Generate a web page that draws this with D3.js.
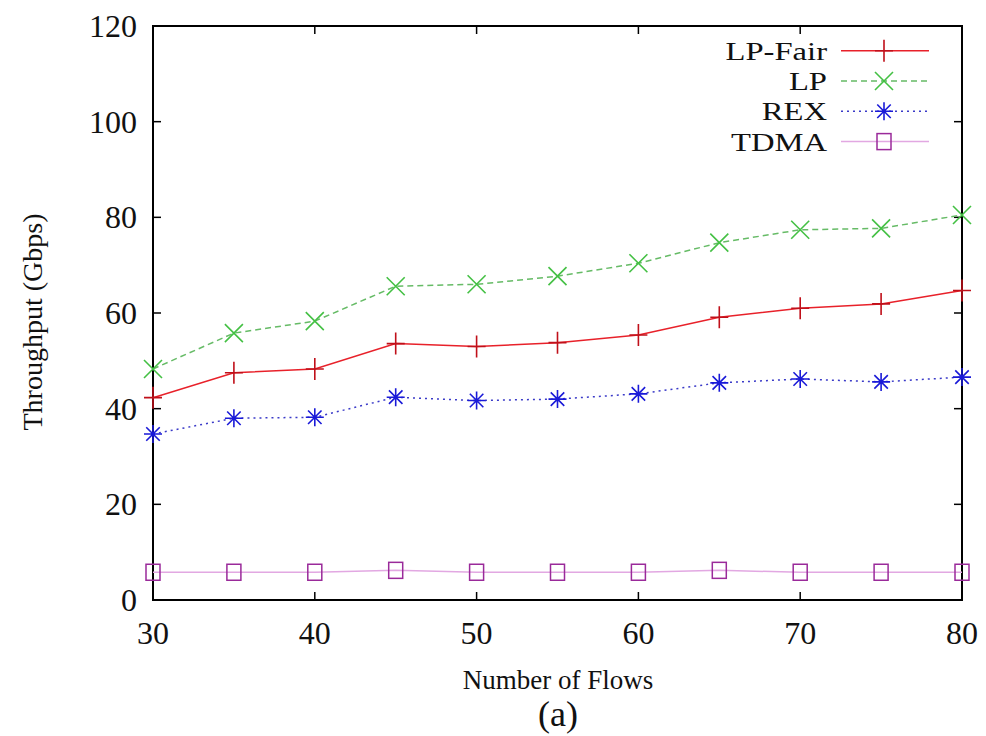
<!DOCTYPE html>
<html><head><meta charset="utf-8">
<script src="https://cdn.jsdelivr.net/npm/d3@7"></script>
<style>body{margin:0;background:#fff}svg{display:block}text{font-family:"Liberation Serif","Times New Roman","DejaVu Serif",serif;fill:#111}</style>
</head><body><svg id="c" width="986" height="736" font-family="Liberation Serif, Times New Roman, serif"></svg>
<script>
const flows = [30,35,40,45,50,55,60,65,70,75,80];
const lpFair = [42.3,47.5,48.3,53.6,53.0,53.8,55.4,59.1,61.0,61.9,64.7];
const lp     = [48.3,55.8,58.3,65.6,66.0,67.7,70.4,74.7,77.4,77.7,80.5];
const rex    = [34.7,38.0,38.2,42.4,41.7,42.0,43.1,45.4,46.2,45.6,46.6];
const tdma   = [5.8,5.8,5.8,6.2,5.8,5.8,5.8,6.2,5.8,5.8,5.8];
const xTicks = [30,40,50,60,70,80];
const yTicks = [0,20,40,60,80,100,120];
const seriesNames = ["LP-Fair","LP","REX","TDMA"];

const svg = d3.select("#c");
const L=153,R=962,T=26,B=600;
const x = d3.scaleLinear().domain([30,80]).range([L,R]);
const y = d3.scaleLinear().domain([0,120]).range([B,T]);

const series = [
  {name:seriesNames[0], vals:lpFair, color:"#e8212a", dash:null, mark:"plus", mcolor:"#c0101a"},
  {name:seriesNames[1], vals:lp, color:"#66bb66", dash:"6,4", mark:"cross", mcolor:"#44c044"},
  {name:seriesNames[2], vals:rex, color:"#3a3ac8", dash:"2,4", mark:"star", mcolor:"#1a1ad8"},
  {name:seriesNames[3], vals:tdma, color:"#e2a8e2", dash:null, mark:"box", mcolor:"#9a2a9a"}
];

function marker(g, kind, cx, cy, color){
  const s=9;
  if(kind==="plus"){
    g.append("path").attr("d",`M${cx-s},${cy}H${cx+s}M${cx},${cy-s-2}V${cy+s+2}`).attr("stroke",color).attr("stroke-width",1.6).attr("fill","none");
  } else if(kind==="cross"){
    g.append("path").attr("d",`M${cx-s},${cy-s}L${cx+s},${cy+s}M${cx-s},${cy+s}L${cx+s},${cy-s}`).attr("stroke",color).attr("stroke-width",1.6).attr("fill","none");
  } else if(kind==="star"){
    g.append("path").attr("d",`M${cx-s},${cy}H${cx+s}M${cx},${cy-s}V${cy+s}M${cx-s*0.75},${cy-s*0.75}L${cx+s*0.75},${cy+s*0.75}M${cx-s*0.75},${cy+s*0.75}L${cx+s*0.75},${cy-s*0.75}`).attr("stroke",color).attr("stroke-width",1.6).attr("fill","none");
  } else {
    g.append("rect").attr("x",cx-7).attr("y",cy-8).attr("width",14).attr("height",16).attr("stroke",color).attr("stroke-width",1.5).attr("fill","none");
  }
}

// frame
svg.append("rect").attr("x",L).attr("y",T).attr("width",R-L).attr("height",B-T).attr("fill","none").attr("stroke","#000").attr("stroke-width",2);

// ticks (inward, mirrored)
const tk = svg.append("g").attr("stroke","#000").attr("stroke-width",1.5);
yTicks.forEach(v=>{ if(v>0&&v<120){tk.append("line").attr("x1",L).attr("x2",L+8).attr("y1",y(v)).attr("y2",y(v));
  tk.append("line").attr("x1",R).attr("x2",R-8).attr("y1",y(v)).attr("y2",y(v));}});
xTicks.forEach(v=>{ if(v>30&&v<80){tk.append("line").attr("y1",B).attr("y2",B-8).attr("x1",x(v)).attr("x2",x(v));
  tk.append("line").attr("y1",T).attr("y2",T+8).attr("x1",x(v)).attr("x2",x(v));}});

// tick labels
svg.append("g").selectAll("text").data(yTicks).join("text")
  .attr("x",L-16).attr("y",d=>y(d)+11).attr("text-anchor","end").attr("font-size",32).text(d=>d);
svg.append("g").selectAll("text").data(xTicks).join("text")
  .attr("x",d=>x(d)).attr("y",B+44).attr("text-anchor","middle").attr("font-size",32).text(d=>d);

// axis titles
svg.append("text").attr("transform","translate(42,322) rotate(-90)").attr("text-anchor","middle").attr("font-size",28).text("Throughput (Gbps)");
svg.append("text").attr("x",558).attr("y",689).attr("text-anchor","middle").attr("font-size",27).text("Number of Flows");
svg.append("text").attr("x",558).attr("y",726).attr("text-anchor","middle").attr("font-size",36).text("(a)");

// lines and markers
const line = d3.line().x((d,i)=>x(flows[i])).y(d=>y(d));
series.slice().reverse().forEach(s=>{
  svg.append("path").datum(s.vals).attr("d",line).attr("fill","none").attr("stroke",s.color).attr("stroke-width",1.5).attr("stroke-dasharray",s.dash);
  const g = svg.append("g");
  s.vals.forEach((v,i)=>marker(g,s.mark,x(flows[i]),y(v),s.mcolor));
});

// legend
const lg = svg.append("g");
series.forEach((s,i)=>{
  const yy = 50.7 + i*30.3;
  lg.append("text").attr("transform",`translate(827,${yy+9}) scale(1.28,1)`).attr("text-anchor","end").attr("font-size",25.5).text(s.name);
  lg.append("line").attr("x1",841).attr("x2",929).attr("y1",yy).attr("y2",yy).attr("stroke",s.color).attr("stroke-width",1.5).attr("stroke-dasharray",s.dash);
  marker(lg,s.mark,884,yy,s.mcolor);
});
</script></body></html>
